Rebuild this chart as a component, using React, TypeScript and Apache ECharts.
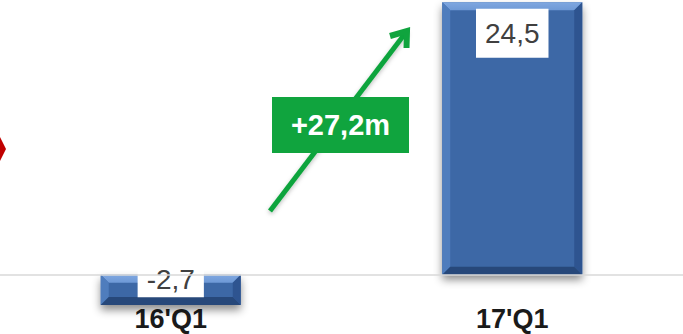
import React, { useEffect, useRef } from "react";
import * as echarts from "echarts";

const categories = ["16'Q1", "17'Q1"];
const values = [-2.7, 24.5];
const changeLabel = "+27,2m";

const BAR = "#3D68A6";
const BEVEL_TOP = "#6E99D6";
const BEVEL_LEFT = "#4F7DBD";
const BEVEL_RIGHT = "#2E5490";
const BEVEL_BOTTOM = "#27487A";
const GREEN = "#10A43E";

function fmt(v: number) {
  return String(v).replace(".", ",");
}

export default function App() {
  const ref = useRef<HTMLDivElement>(null);
  useEffect(() => {
    if (!ref.current) return;
    const chart = echarts.init(ref.current, null, { renderer: "svg" });
    const tip = [407, 31];
    const start = [270, 211];
    const option: any = {
      animation: false,
      grid: { left: 0, right: 0, top: 0, bottom: 3.5, outerBoundsMode: "none" },
      xAxis: {
        type: "category",
        data: categories,
        axisTick: { show: false },
        axisLine: { show: false, onZero: false },
        axisLabel: {
          margin: -25,
          fontFamily: "Liberation Sans",
          fontWeight: "bold",
          fontSize: 27,
          lineHeight: 27,
          color: "#1a1a1a",
        },
      },
      yAxis: {
        type: "value",
        min: -5,
        max: 24.7,
        show: false,
        splitLine: { show: false },
      },
      series: [
        {
          type: "custom",
          clip: false,
          data: values.map((v, i) => [i, v]),
          markLine: {
            silent: true,
            symbol: "none",
            label: { show: false },
            lineStyle: { color: "#d9d9d9", width: 1.5, type: "solid" },
            data: [{ yAxis: 0 }],
          },
          renderItem: (params: any, api: any) => {
            const idx = api.value(0);
            const v = api.value(1);
            const p0 = api.coord([idx, 0]);
            const p1 = api.coord([idx, v]);
            const w = api.size([1, 0])[0] * 0.41;
            const x0 = p0[0] - w / 2;
            const x1 = p0[0] + w / 2;
            const yt = Math.min(p0[1], p1[1]);
            const yb = Math.max(p0[1], p1[1]);
            const b = 8;
            const labelCy = v >= 0 ? yt + 31 : p0[1] + 5;
            return {
              type: "group",
              children: [
                {
                  type: "rect",
                  shape: { x: x0, y: yt, width: w, height: yb - yt },
                  style: {
                    fill: BAR,
                    shadowBlur: 8,
                    shadowOffsetY: 5,
                    shadowOffsetX: 0,
                    shadowColor: "rgba(0,0,0,0.45)",
                  },
                },
                {
                  type: "polygon",
                  shape: { points: [[x0, yt], [x1, yt], [x1 - b, yt + b], [x0 + b, yt + b]] },
                  style: {
                    fill: new echarts.graphic.LinearGradient(0, 0, 0, 1, [
                      { offset: 0, color: "#7FA7E0" },
                      { offset: 1, color: BEVEL_TOP },
                    ]),
                  },
                },
                {
                  type: "polygon",
                  shape: { points: [[x0, yt], [x0 + b, yt + b], [x0 + b, yb - b], [x0, yb]] },
                  style: { fill: BEVEL_LEFT },
                },
                {
                  type: "polygon",
                  shape: { points: [[x1, yt], [x1 - b, yt + b], [x1 - b, yb - b], [x1, yb]] },
                  style: { fill: BEVEL_RIGHT },
                },
                {
                  type: "polygon",
                  shape: { points: [[x0, yb], [x0 + b, yb - b], [x1 - b, yb - b], [x1, yb]] },
                  style: { fill: BEVEL_BOTTOM },
                },
                {
                  type: "text",
                  style: {
                    text: fmt(v),
                    x: p0[0],
                    y: labelCy,
                    align: "center",
                    verticalAlign: "middle",
                    fontFamily: "Liberation Sans",
                    fontSize: 28,
                    lineHeight: 29,
                    fill: "#404040",
                    backgroundColor: "#ffffff",
                    padding: v >= 0 ? [10, 9] : [3, 9],
                  },
                },
              ],
            };
          },
        },
      ],
      graphic: [
        {
          type: "polygon",
          shape: { points: [[0, 137], [6, 149], [0, 161], [-6, 149]] },
          style: { fill: "#C00000" },
        },
        {
          type: "line",
          shape: { x1: start[0], y1: start[1], x2: tip[0], y2: tip[1] },
          style: {
            stroke: GREEN,
            lineWidth: 5,
            shadowBlur: 4,
            shadowOffsetY: 2,
            shadowColor: "rgba(0,0,0,0.25)",
          },
        },
        {
          type: "polyline",
          shape: { points: [[390, 36], [tip[0], tip[1]], [406.5, 48]] },
          style: {
            stroke: GREEN,
            lineWidth: 6,
            lineJoin: "miter",
            fill: null,
          },
        },
        {
          type: "rect",
          shape: { x: 272, y: 97, width: 137, height: 56 },
          style: { fill: GREEN },
        },
        {
          type: "text",
          style: {
            text: changeLabel,
            x: 340.5,
            y: 125,
            align: "center",
            verticalAlign: "middle",
            fontFamily: "Liberation Sans",
            fontWeight: "bold",
            fontSize: 29,
            fill: "#ffffff",
          },
        },
      ],
    };
    chart.setOption(option);
    return () => chart.dispose();
  }, []);
  return (
    <div
      ref={ref}
      style={{ position: "absolute", left: 0, top: 0, width: 683, height: 334, background: "#ffffff" }}
    />
  );
}
